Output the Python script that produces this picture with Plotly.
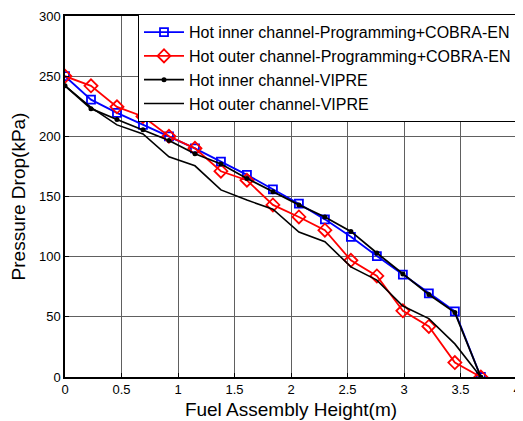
import plotly.graph_objects as go

height_m = [0, 0.23, 0.46, 0.69, 0.92, 1.15, 1.38, 1.61, 1.84, 2.07, 2.30, 2.53, 2.76, 2.99, 3.22, 3.45, 3.68]
inner_prog = [250, 230.5, 219.5, 209.5, 200, 190, 179, 168, 156, 144, 131, 116.5, 100.5, 85, 69.5, 54.5, 0]
outer_prog = [250, 242, 224.5, 216.5, 200, 190, 171, 163.5, 143, 133, 122, 97, 84, 55, 42, 12, 0]
inner_vipre = [242, 223, 214, 205.5, 196.5, 185.5, 177, 165, 154, 143, 133, 121, 103, 85.5, 68.5, 53.5, 0]
outer_vipre = [242, 224, 209.5, 202, 183, 175.5, 155.5, 147, 139.5, 120.5, 112.5, 91.5, 80.5, 59, 48.5, 27.5, 0]

names = ["Hot inner channel-Programming+COBRA-EN",
         "Hot outer channel-Programming+COBRA-EN",
         "Hot inner channel-VIPRE",
         "Hot outer channel-VIPRE"]

FONT = "Arial, Liberation Sans, sans-serif"

fig = go.Figure()
fig.add_trace(go.Scatter(x=height_m, y=inner_prog, name=names[0], mode="lines+markers",
                         line=dict(color="#0000ff", width=1.8),
                         marker=dict(symbol="square-open", size=8, color="#0000ff", line=dict(width=1.8))))
fig.add_trace(go.Scatter(x=height_m, y=outer_prog, name=names[1], mode="lines+markers",
                         line=dict(color="#ff0000", width=1.8),
                         marker=dict(symbol="diamond-open", size=10, color="#ff0000", line=dict(width=1.8))))
fig.add_trace(go.Scatter(x=height_m, y=inner_vipre, name=names[2], mode="lines+markers",
                         line=dict(color="#000000", width=1.8),
                         marker=dict(symbol="circle", size=5, color="#000000")))
fig.add_trace(go.Scatter(x=height_m, y=outer_vipre, name=names[3], mode="lines",
                         line=dict(color="#000000", width=1.6)))

axis_common = dict(showline=True, linecolor="black", linewidth=1.5, mirror=True,
                   ticks="inside", ticklen=4, tickcolor="black",
                   showgrid=True, gridcolor="#606060", gridwidth=1.2,
                   zeroline=False, automargin=False,
                   tickfont=dict(family=FONT, size=13, color="black"))

fig.update_xaxes(range=[0, 4], dtick=0.5, tick0=0,
                 title=dict(text="Fuel Assembly Height(m)", font=dict(family=FONT, size=19, color="black"), standoff=6),
                 **axis_common)
fig.update_yaxes(range=[0, 300], dtick=50, tick0=0,
                 title=dict(text="Pressure Drop(kPa)", font=dict(family=FONT, size=19, color="black"), standoff=10),
                 **axis_common)

# The page body has an 8px default margin; size the figure so the plot area
# lands at the reference position inside the 523x421 window.
fig.update_layout(width=515, height=413, margin=dict(l=57, r=6, t=8, b=44),
                  paper_bgcolor="white", plot_bgcolor="white",
                  font=dict(family=FONT, color="black"),
                  legend=dict(x=1, y=1.005, xanchor="right", yanchor="top",
                              bgcolor="white", bordercolor="black", borderwidth=1,
                              font=dict(family=FONT, size=16, color="black"),
                              tracegroupgap=0, itemwidth=40))

fig.write_html("out.html")
